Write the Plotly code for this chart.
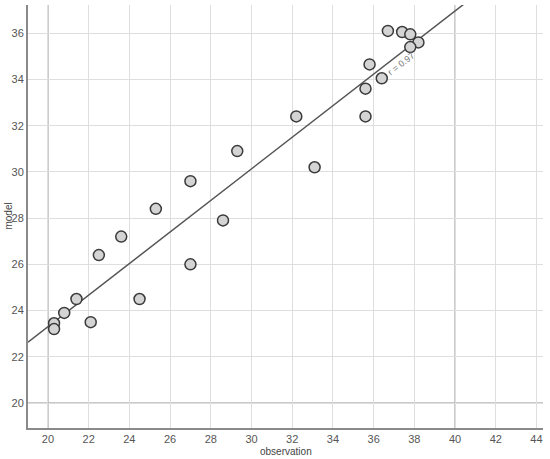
import numpy as np
import plotly.graph_objects as go

observation = [20.3, 20.3, 20.8, 21.4, 22.1, 22.5, 23.6, 24.5, 27.0, 25.3, 27.0, 28.6,
               29.3, 32.2, 33.1, 35.6, 35.6, 35.8, 36.4, 36.7, 37.4, 37.8, 38.2, 37.8]
model = [23.45, 23.2, 23.9, 24.5, 23.5, 26.4, 27.2, 24.5, 26.0, 28.4, 29.6, 27.9,
         30.9, 32.4, 30.2, 33.6, 32.4, 34.65, 34.05, 36.1, 36.05, 35.95, 35.6, 35.4]
x_ticks = [20, 22, 24, 26, 28, 30, 32, 34, 36, 38, 40, 42, 44]
y_ticks = [20, 22, 24, 26, 28, 30, 32, 34, 36]
x_range = [19.02, 44.32]
y_range = [18.92, 37.22]
ref_lines = [20, 40]

xo = np.array(observation)
ym = np.array(model)
slope, intercept = np.polyfit(xo, ym, 1)
r = np.corrcoef(xo, ym)[0, 1]

fig = go.Figure()
lx = np.array(x_range)
fig.add_trace(go.Scatter(x=lx, y=slope * lx + intercept, mode="lines",
                         line=dict(color="#555555", width=1.5), hoverinfo="skip",
                         showlegend=False))
fig.add_trace(go.Scatter(x=observation, y=model, mode="markers",
                         marker=dict(size=11, color="#d4d4d4",
                                     line=dict(color="#3a3a3a", width=1.5)),
                         showlegend=False))

for v in ref_lines:
    fig.add_shape(type="line", xref="x", yref="paper", x0=v, x1=v, y0=0, y1=1,
                  line=dict(color="#8c8c8c", width=1), layer="below")
fig.add_shape(type="line", xref="paper", yref="y", x0=0, x1=1, y0=20, y1=20,
              line=dict(color="#8c8c8c", width=1), layer="below")

# annotation for r, placed along the fit line
ax_ = 37.0
angle = np.degrees(np.arctan(slope * (23.125 / 20.35)))
fig.add_annotation(x=ax_, y=slope * ax_ + intercept, text=f"r = {r:.2f}",
                   showarrow=False, textangle=-angle, xshift=7, yshift=-6,
                   font=dict(family="Liberation Sans, Arial", size=9, color="#777777"))

font_fam = "Liberation Sans, Arial"
axis_common = dict(showgrid=True, gridcolor="#dedede", gridwidth=1, zeroline=False,
                   showline=True, linecolor="#8a8a8a", linewidth=2, ticks="",
                   automargin=False,
                   tickfont=dict(family=font_fam, size=11, color="#555555"))
fig.update_xaxes(range=x_range, tickvals=x_ticks, **axis_common)
fig.update_yaxes(range=y_range, tickvals=y_ticks, **axis_common)

fig.add_annotation(x=0.5, y=-0.0544, xref="paper", yref="paper", yanchor="middle",
                   text="observation", showarrow=False,
                   font=dict(family=font_fam, size=10, color="#444444"))
fig.add_annotation(x=-0.0388, y=0.5, xref="paper", yref="paper", xanchor="center",
                   text="model", showarrow=False, textangle=-90,
                   font=dict(family=font_fam, size=10, color="#444444"))

fig.update_layout(width=550, height=459, margin=dict(l=28, r=7, t=5, b=31),
                  plot_bgcolor="white", paper_bgcolor="white")
fig.write_html("out.html", config={"displayModeBar": False},
               post_script="document.body.style.margin='0';")
